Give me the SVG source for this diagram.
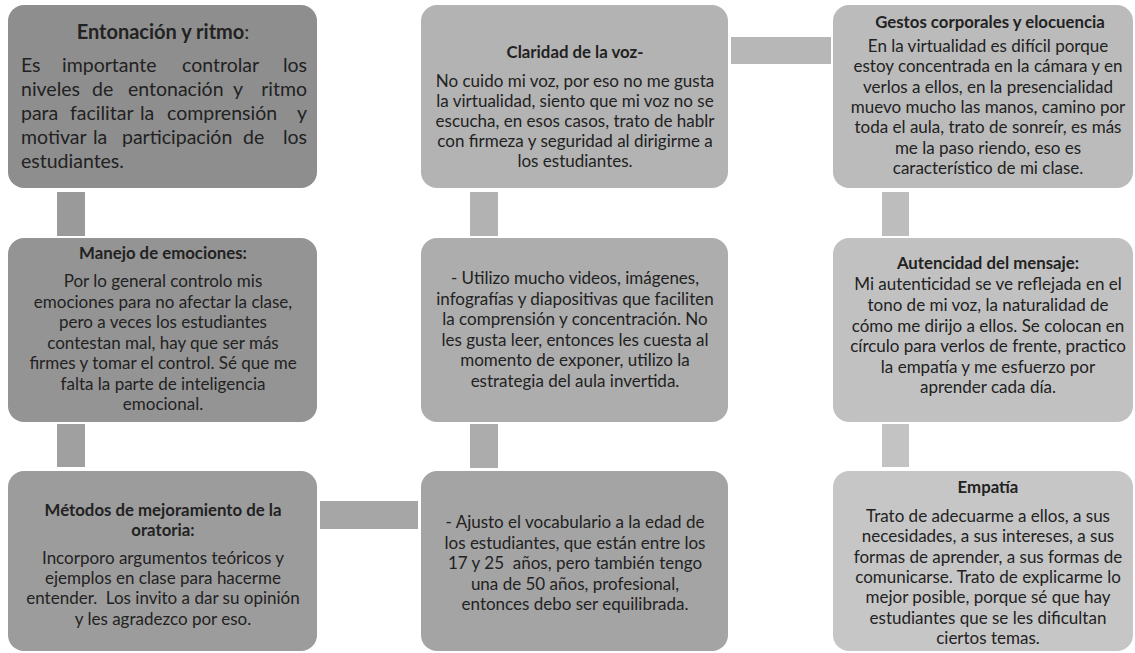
<svg xmlns="http://www.w3.org/2000/svg" width="1135" height="653" viewBox="0 0 1135 653">
<style>
text{font-family:Lato,"Open Sans","DejaVu Sans",sans-serif;fill:#222;}
.t{font-weight:bold;font-size:16.8px;text-anchor:middle;}
.b{font-size:17px;text-anchor:middle;}
.t1{font-weight:bold;font-size:20px;text-anchor:middle;}
.j{font-size:19.5px;}
.e{text-anchor:end;}
.n{font-weight:normal;}
</style>
<rect width="1135" height="653" fill="#ffffff"/>
<g id="connectors">
<rect x="57" y="192" width="28" height="44" fill="#9a9a9a"/>
<rect x="57" y="424" width="28" height="43" fill="#a0a0a0"/>
<rect x="320" y="501" width="98" height="28" fill="#a6a6a6"/>
<rect x="470" y="424" width="28" height="44" fill="#acacac"/>
<rect x="470" y="192" width="28" height="44" fill="#b2b2b2"/>
<rect x="731" y="37" width="100" height="27" fill="#b7b7b7"/>
<rect x="882" y="192" width="27" height="44" fill="#bdbdbd"/>
<rect x="882" y="424" width="27" height="43" fill="#c3c3c3"/>
</g>
<g id="node1">
<rect x="8" y="5" width="309" height="183" rx="16" fill="#8e8e8e"/>
<text class="t1" x="163" y="39">Entonación y ritmo<tspan class="n">:</tspan></text>
<text class="j" y="72"><tspan x="21">Es</tspan><tspan x="62">importante</tspan><tspan x="182">controlar</tspan><tspan x="307" class="e">los</tspan></text>
<text class="j" y="96"><tspan x="21">niveles</tspan><tspan x="92">de</tspan><tspan x="128">entonación</tspan><tspan x="233">y</tspan><tspan x="307" class="e">ritmo</tspan></text>
<text class="j" y="120"><tspan x="21">para</tspan><tspan x="70">facilitar</tspan><tspan x="140">la</tspan><tspan x="167">comprensión</tspan><tspan x="307" class="e">y</tspan></text>
<text class="j" y="144"><tspan x="21">motivar</tspan><tspan x="93">la</tspan><tspan x="122">participación</tspan><tspan x="243">de</tspan><tspan x="307" class="e">los</tspan></text>
<text class="j" y="168"><tspan x="21">estudiantes.</tspan></text>
</g>
<g id="node2">
<rect x="8" y="238" width="309" height="184" rx="16" fill="#949494"/>
<text class="t" x="163" y="259">Manejo de emociones:</text>
<text class="b"><tspan x="163" y="287">Por lo general controlo mis</tspan><tspan x="163" y="308">emociones para no afectar la clase,</tspan><tspan x="163" y="328">pero a veces los estudiantes</tspan><tspan x="163" y="349">contestan mal, hay que ser más</tspan><tspan x="163" y="369">firmes y tomar el control. Sé que me</tspan><tspan x="163" y="390">falta la parte de inteligencia</tspan><tspan x="163" y="410">emocional.</tspan></text>
</g>
<g id="node3">
<rect x="8" y="471" width="309" height="180" rx="16" fill="#9c9c9c"/>
<text class="t"><tspan x="163" y="516">Métodos de mejoramiento de la</tspan><tspan x="163" y="536">oratoria:</tspan></text>
<text class="b"><tspan x="163" y="564">Incorporo argumentos teóricos y</tspan><tspan x="163" y="584">ejemplos en clase para hacerme</tspan><tspan x="163" y="604" xml:space="preserve">entender.  Los invito a dar su opinión</tspan><tspan x="163" y="625">y les agradezco por eso.</tspan></text>
</g>
<g id="node4">
<rect x="421" y="5" width="307" height="183" rx="16" fill="#b3b3b3"/>
<text class="t" x="575" y="58">Claridad de la voz-</text>
<text class="b"><tspan x="575" y="87">No cuido mi voz, por eso no me gusta</tspan><tspan x="575" y="107">la virtualidad, siento que mi voz no se</tspan><tspan x="575" y="127">escucha, en esos casos, trato de hablr</tspan><tspan x="575" y="147">con firmeza y seguridad al dirigirme a</tspan><tspan x="575" y="167">los estudiantes.</tspan></text>
</g>
<g id="node5">
<rect x="421" y="238" width="307" height="184" rx="16" fill="#adadad"/>
<text class="b"><tspan x="575" y="284">- Utilizo mucho videos, imágenes,</tspan><tspan x="575" y="305">infografías y diapositivas que faciliten</tspan><tspan x="575" y="325">la comprensión y concentración. No</tspan><tspan x="575" y="346">les gusta leer, entonces les cuesta al</tspan><tspan x="575" y="366">momento de exponer, utilizo la</tspan><tspan x="575" y="387">estrategia del aula invertida.</tspan></text>
</g>
<g id="node6">
<rect x="421" y="471" width="307" height="180" rx="16" fill="#a4a4a4"/>
<text class="b"><tspan x="575" y="528">- Ajusto el vocabulario a la edad de</tspan><tspan x="575" y="549">los estudiantes, que están entre los</tspan><tspan x="575" y="569" xml:space="preserve">17 y 25  años, pero también tengo</tspan><tspan x="575" y="590">una de 50 años, profesional,</tspan><tspan x="575" y="610">entonces debo ser equilibrada.</tspan></text>
</g>
<g id="node7">
<rect x="833" y="5" width="300" height="183" rx="16" fill="#bbbbbb"/>
<text class="t" x="990" y="28">Gestos corporales y elocuencia</text>
<text class="b"><tspan x="988" y="52">En la virtualidad es difícil porque</tspan><tspan x="988" y="72">estoy concentrada en la cámara y en</tspan><tspan x="988" y="93">verlos a ellos, en la presencialidad</tspan><tspan x="988" y="113">muevo mucho las manos, camino por</tspan><tspan x="988" y="133">toda el aula, trato de sonreír, es más</tspan><tspan x="988" y="154">me la paso riendo, eso es</tspan><tspan x="988" y="174">característico de mi clase.</tspan></text>
</g>
<g id="node8">
<rect x="833" y="238" width="300" height="184" rx="16" fill="#c1c1c1"/>
<text class="t" x="988" y="269">Autencidad del mensaje:</text>
<text class="b"><tspan x="988" y="290">Mi autenticidad se ve reflejada en el</tspan><tspan x="988" y="311">tono de mi voz, la naturalidad de</tspan><tspan x="988" y="332">cómo me dirijo a ellos. Se colocan en</tspan><tspan x="988" y="352">círculo para verlos de frente, practico</tspan><tspan x="988" y="373">la empatía y me esfuerzo por</tspan><tspan x="988" y="393">aprender cada día.</tspan></text>
</g>
<g id="node9">
<rect x="833" y="471" width="300" height="180" rx="16" fill="#c6c6c6"/>
<text class="t" x="988" y="493">Empatía</text>
<text class="b"><tspan x="988" y="522">Trato de adecuarme a ellos, a sus</tspan><tspan x="988" y="542">necesidades, a sus intereses, a sus</tspan><tspan x="988" y="563">formas de aprender, a sus formas de</tspan><tspan x="988" y="583">comunicarse. Trato de explicarme lo</tspan><tspan x="988" y="603">mejor posible, porque sé que hay</tspan><tspan x="988" y="624">estudiantes que se les dificultan</tspan><tspan x="988" y="644">ciertos temas.</tspan></text>
</g>
</svg>
